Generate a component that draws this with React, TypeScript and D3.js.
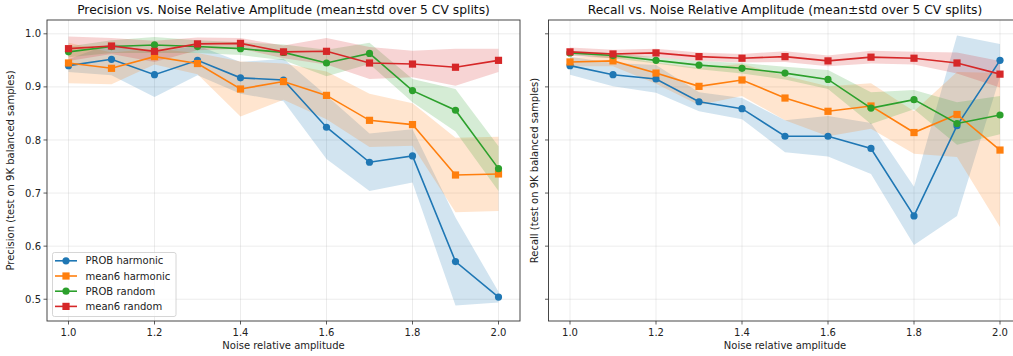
import React from "react";
import * as d3 from "d3";

const xs = [1.0, 1.1, 1.2, 1.3, 1.4, 1.5, 1.6, 1.7, 1.8, 1.9, 2.0];
const xTicks = [1.0, 1.2, 1.4, 1.6, 1.8, 2.0];
const yTicks = [0.5, 0.6, 0.7, 0.8, 0.9, 1.0];
const seriesNames = ["PROB harmonic", "mean6 harmonic", "PROB random", "mean6 random"];
const seriesColors = ["#1f77b4", "#ff7f0e", "#2ca02c", "#d62728"];
const seriesMarkers = ["circle", "square", "circle", "square"];

// Precision
const precProbHarm = [0.940, 0.952, 0.923, 0.950, 0.917, 0.913, 0.824, 0.758, 0.770, 0.571, 0.504];
const precProbHarmStd = [0.012, 0.030, 0.042, 0.028, 0.030, 0.040, 0.060, 0.054, 0.050, 0.083, 0.010];
const precMeanHarm = [0.945, 0.935, 0.957, 0.944, 0.896, 0.910, 0.884, 0.837, 0.829, 0.734, 0.736];
const precMeanHarmStd = [0.038, 0.030, 0.015, 0.020, 0.052, 0.034, 0.045, 0.050, 0.040, 0.070, 0.070];
const precProbRand = [0.966, 0.976, 0.979, 0.976, 0.972, 0.965, 0.945, 0.963, 0.893, 0.856, 0.746];
const precProbRandStd = [0.010, 0.012, 0.015, 0.012, 0.012, 0.015, 0.025, 0.020, 0.022, 0.040, 0.042];
const precMeanRand = [0.972, 0.977, 0.967, 0.981, 0.982, 0.966, 0.967, 0.945, 0.943, 0.937, 0.950];
const precMeanRandStd = [0.023, 0.015, 0.020, 0.012, 0.010, 0.012, 0.025, 0.030, 0.025, 0.035, 0.022];

// Recall
const recProbHarm = [0.940, 0.923, 0.915, 0.872, 0.859, 0.807, 0.807, 0.784, 0.657, 0.827, 0.950];
const recProbHarmStd = [0.017, 0.022, 0.026, 0.018, 0.020, 0.030, 0.038, 0.048, 0.055, 0.170, 0.031];
const recMeanHarm = [0.947, 0.949, 0.926, 0.901, 0.913, 0.879, 0.854, 0.864, 0.814, 0.848, 0.781];
const recMeanHarmStd = [0.008, 0.010, 0.020, 0.035, 0.030, 0.042, 0.047, 0.043, 0.040, 0.080, 0.145];
const recProbRand = [0.964, 0.959, 0.950, 0.941, 0.935, 0.926, 0.914, 0.860, 0.876, 0.831, 0.847];
const recProbRandStd = [0.004, 0.005, 0.006, 0.008, 0.010, 0.012, 0.018, 0.030, 0.018, 0.040, 0.036];
const recMeanRand = [0.966, 0.962, 0.964, 0.957, 0.954, 0.957, 0.949, 0.956, 0.954, 0.945, 0.924];
const recMeanRandStd = [0.008, 0.008, 0.008, 0.008, 0.008, 0.010, 0.010, 0.012, 0.012, 0.020, 0.025];

const FONT = "DejaVu Sans, sans-serif";

type Panel = {
  title: string;
  ylabel: string;
  means: number[][];
  stds: number[][];
  left: number;
  right: number;
  showYLabels: boolean;
  ylabelX: number;
  legend: boolean;
};

const top = 20;
const bottom = 321;

function PanelView({ p }: { p: Panel }) {
  const x = d3.scaleLinear().domain([0.95, 2.05]).range([p.left, p.right]);
  const y = d3.scaleLinear().domain([0.459, 1.026]).range([bottom, top]);
  const clipId = "clip" + Math.round(p.left);
  const line = d3.line<number>().x((_, i) => x(xs[i])).y((d) => y(d));
  const area = (m: number[], s: number[]) =>
    d3
      .area<number>()
      .x((_, i) => x(xs[i]))
      .y0((d, i) => y(d - s[i]))
      .y1((d, i) => y(d + s[i]))(m) as string;
  const cy = (top + bottom) / 2;
  return (
    <g>
      <defs>
        <clipPath id={clipId}>
          <rect x={p.left} y={top} width={p.right - p.left} height={bottom - top} />
        </clipPath>
      </defs>
      <g clipPath={`url(#${clipId})`}>
        {xTicks.map((t) => (
          <line key={"gx" + t} x1={x(t)} x2={x(t)} y1={top} y2={bottom} stroke="#b0b0b0" strokeOpacity={0.3} strokeWidth={0.8} />
        ))}
        {yTicks.map((t) => (
          <line key={"gy" + t} x1={p.left} x2={p.right} y1={y(t)} y2={y(t)} stroke="#b0b0b0" strokeOpacity={0.3} strokeWidth={0.8} />
        ))}
        {p.means.map((m, k) => (
          <path key={"a" + k} d={area(m, p.stds[k])} fill={seriesColors[k]} fillOpacity={0.2} stroke="none" />
        ))}
        {p.means.map((m, k) => (
          <g key={"l" + k}>
            <path d={line(m) as string} fill="none" stroke={seriesColors[k]} strokeWidth={1.6} />
            {m.map((v, i) =>
              seriesMarkers[k] === "circle" ? (
                <circle key={i} cx={x(xs[i])} cy={y(v)} r={3.6} fill={seriesColors[k]} />
              ) : (
                <rect key={i} x={x(xs[i]) - 3.6} y={y(v) - 3.6} width={7.2} height={7.2} fill={seriesColors[k]} />
              )
            )}
          </g>
        ))}
      </g>
      {/* spines */}
      <rect x={p.left} y={top} width={p.right - p.left} height={bottom - top} fill="none" stroke="#333" strokeWidth={0.9} />
      {/* x ticks */}
      {xTicks.map((t) => (
        <g key={"xt" + t}>
          <line x1={x(t)} x2={x(t)} y1={bottom} y2={bottom + 3.5} stroke="#333" strokeWidth={0.8} />
          <text x={x(t)} y={bottom + 15} textAnchor="middle" fontSize={10} fontFamily={FONT} fill="#222">
            {t.toFixed(1)}
          </text>
        </g>
      ))}
      {yTicks.map((t) => (
        <g key={"yt" + t}>
          <line x1={p.left - 3.5} x2={p.left} y1={y(t)} y2={y(t)} stroke="#333" strokeWidth={0.8} />
          {p.showYLabels && (
            <text x={p.left - 6} y={y(t) + 3.6} textAnchor="end" fontSize={10} fontFamily={FONT} fill="#222">
              {t.toFixed(1)}
            </text>
          )}
        </g>
      ))}
      <text x={(p.left + p.right) / 2} y={14} textAnchor="middle" fontSize={12.3} fontFamily={FONT} fill="#111">
        {p.title}
      </text>
      <text x={(p.left + p.right) / 2} y={bottom + 28} textAnchor="middle" fontSize={10} fontFamily={FONT} fill="#222">
        Noise relative amplitude
      </text>
      <text
        transform={`translate(${p.ylabelX},${cy}) rotate(-90)`}
        textAnchor="middle"
        fontSize={10}
        fontFamily={FONT}
        fill="#222"
      >
        {p.ylabel}
      </text>
      {p.legend && (
        <g>
          <rect x={52.5} y={252.5} width={123.5} height={64} rx={2} fill="#fff" fillOpacity={0.8} stroke="#ccc" strokeWidth={0.8} />
          {seriesNames.map((n, k) => {
            const ly = 260.8 + k * 15.2;
            return (
              <g key={"lg" + k}>
                <line x1={55} x2={77} y1={ly} y2={ly} stroke={seriesColors[k]} strokeWidth={1.6} />
                {seriesMarkers[k] === "circle" ? (
                  <circle cx={66} cy={ly} r={3.6} fill={seriesColors[k]} />
                ) : (
                  <rect x={62.4} y={ly - 3.6} width={7.2} height={7.2} fill={seriesColors[k]} />
                )}
                <text x={85.5} y={ly + 3.6} fontSize={10} fontFamily={FONT} fill="#222">
                  {n}
                </text>
              </g>
            );
          })}
        </g>
      )}
    </g>
  );
}

export default function App() {
  const panels: Panel[] = [
    {
      title: "Precision vs. Noise Relative Amplitude (mean±std over 5 CV splits)",
      ylabel: "Precision (test on 9K balanced samples)",
      means: [precProbHarm, precMeanHarm, precProbRand, precMeanRand],
      stds: [precProbHarmStd, precMeanHarmStd, precProbRandStd, precMeanRandStd],
      left: 47,
      right: 520,
      showYLabels: true,
      ylabelX: 14,
      legend: true,
    },
    {
      title: "Recall vs. Noise Relative Amplitude (mean±std over 5 CV splits)",
      ylabel: "Recall (test on 9K balanced samples)",
      means: [recProbHarm, recMeanHarm, recProbRand, recMeanRand],
      stds: [recProbHarmStd, recMeanHarmStd, recProbRandStd, recMeanRandStd],
      left: 548.5,
      right: 1021.5,
      showYLabels: false,
      ylabelX: 538,
      legend: false,
    },
  ];
  return (
    <svg
      width={1013}
      height={356}
      style={{ position: "absolute", left: 0, top: 0, background: "#fff" }}
    >
      <rect width={1013} height={356} fill="#fff" />
      {panels.map((p, i) => (
        <PanelView key={i} p={p} />
      ))}
    </svg>
  );
}
